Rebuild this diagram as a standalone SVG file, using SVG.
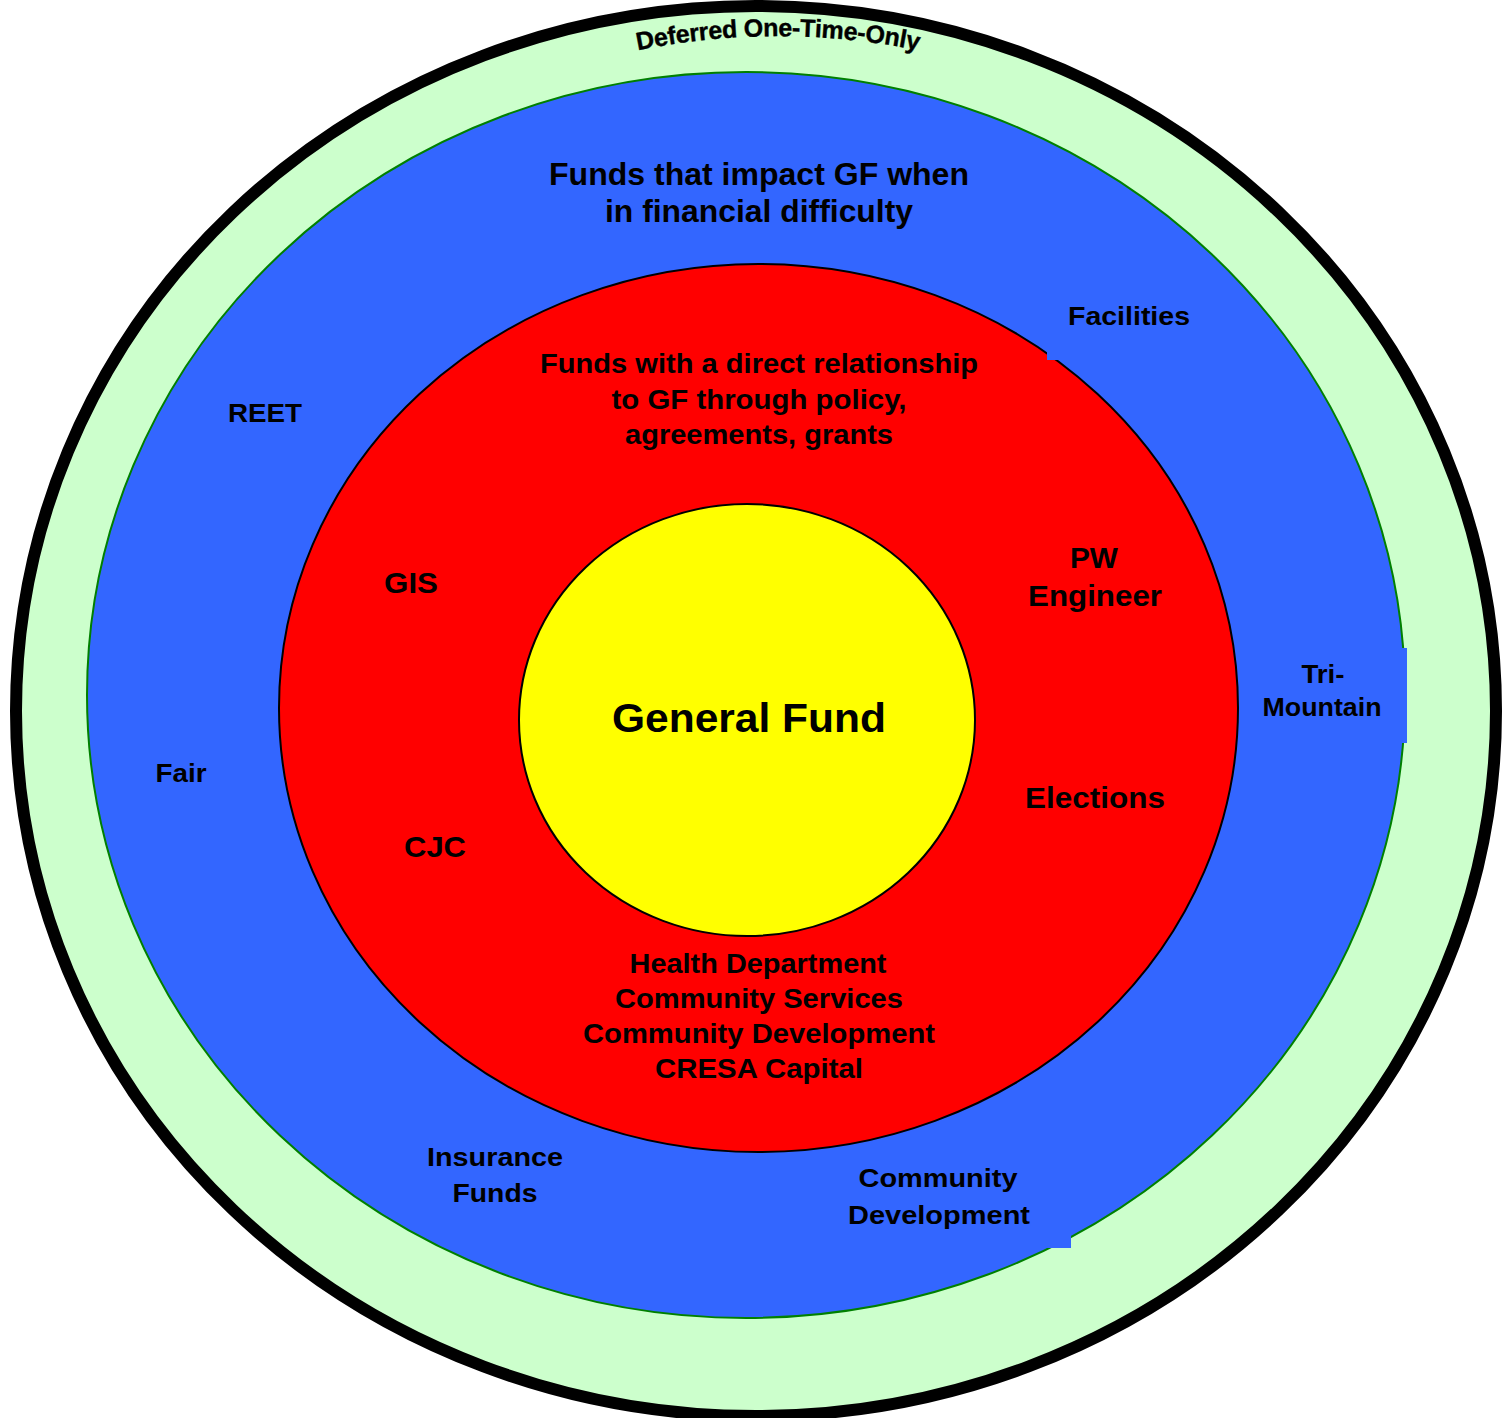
<svg xmlns="http://www.w3.org/2000/svg" width="1503" height="1418" viewBox="0 0 1503 1418">
<style>
text{font-family:"Liberation Sans",Arial,sans-serif;font-weight:bold;fill:#000;text-anchor:middle}
.lb{fill:#3366FF;stroke:none}
</style>
<defs>
<path id="arc" d="M 560,71 A 700 700 0 0 1 996,71"/>
</defs>
<rect x="0" y="0" width="1503" height="1418" fill="#FFFFFF"/>
<g id="ring-deferred">
<ellipse cx="756" cy="711" rx="740" ry="705" fill="#CCFFCC" stroke="#000" stroke-width="12"/>
<text font-size="25" letter-spacing="-0.3" stroke="#000" stroke-width="0.4"><textPath href="#arc" startOffset="50%">Deferred One-Time-Only</textPath></text>
</g>
<g id="ring-impact">
<ellipse cx="746" cy="695" rx="659" ry="623" fill="#3366FF" stroke="#008000" stroke-width="2"/>
<text x="759" y="185" font-size="31" textLength="420" lengthAdjust="spacingAndGlyphs">Funds that impact GF when</text>
<text x="759" y="222" font-size="31" textLength="308" lengthAdjust="spacingAndGlyphs">in financial difficulty</text>
</g>
<g id="ring-direct">
<ellipse cx="758.5" cy="708" rx="479.5" ry="444" fill="#FF0000" stroke="#000" stroke-width="2"/>
<text x="759" y="373" font-size="27" textLength="438" lengthAdjust="spacingAndGlyphs">Funds with a direct relationship</text>
<text x="759" y="409" font-size="27" textLength="295" lengthAdjust="spacingAndGlyphs">to GF through policy,</text>
<text x="759" y="444" font-size="27" textLength="268" lengthAdjust="spacingAndGlyphs">agreements, grants</text>
</g>
<g id="core">
<ellipse cx="747" cy="720" rx="228" ry="216" fill="#FFFF00" stroke="#000" stroke-width="2"/>
<text x="749" y="732" font-size="41" textLength="274" lengthAdjust="spacingAndGlyphs">General Fund</text>
</g>
<g id="node-gis"><text x="411" y="593" font-size="30" textLength="54" lengthAdjust="spacingAndGlyphs">GIS</text></g>
<g id="node-cjc"><text x="435" y="857" font-size="30" textLength="62" lengthAdjust="spacingAndGlyphs">CJC</text></g>
<g id="node-pw">
<text x="1094" y="568" font-size="29" textLength="48" lengthAdjust="spacingAndGlyphs">PW</text>
<text x="1095" y="606" font-size="29" textLength="134" lengthAdjust="spacingAndGlyphs">Engineer</text>
</g>
<g id="node-elections"><text x="1095" y="808" font-size="29" textLength="140" lengthAdjust="spacingAndGlyphs">Elections</text></g>
<g id="node-health">
<text x="758" y="973" font-size="27" textLength="257" lengthAdjust="spacingAndGlyphs">Health Department</text>
<text x="759" y="1008" font-size="27" textLength="288" lengthAdjust="spacingAndGlyphs">Community Services</text>
<text x="759" y="1043" font-size="27" textLength="352" lengthAdjust="spacingAndGlyphs">Community Development</text>
<text x="759" y="1078" font-size="27" textLength="208" lengthAdjust="spacingAndGlyphs">CRESA Capital</text>
</g>
<g id="node-reet"><text x="265" y="422" font-size="26" textLength="74" lengthAdjust="spacingAndGlyphs">REET</text></g>
<g id="node-fair"><text x="181" y="782" font-size="26" textLength="51" lengthAdjust="spacingAndGlyphs">Fair</text></g>
<g id="node-insurance">
<text x="495" y="1166" font-size="26" textLength="136" lengthAdjust="spacingAndGlyphs">Insurance</text>
<text x="495" y="1202" font-size="26" textLength="85" lengthAdjust="spacingAndGlyphs">Funds</text>
</g>
<g id="node-facilities">
<rect class="lb" x="1047" y="290" width="164" height="70"/>
<text x="1129" y="325" font-size="26" textLength="122" lengthAdjust="spacingAndGlyphs">Facilities</text>
</g>
<g id="node-trimountain">
<rect class="lb" x="1239" y="648" width="168" height="95"/>
<text x="1323" y="683" font-size="25" textLength="43" lengthAdjust="spacingAndGlyphs">Tri-</text>
<text x="1322" y="716" font-size="25" textLength="119" lengthAdjust="spacingAndGlyphs">Mountain</text>
</g>
<g id="node-commdev">
<rect class="lb" x="808" y="1155" width="263" height="93"/>
<text x="938" y="1187" font-size="26" textLength="159" lengthAdjust="spacingAndGlyphs">Community</text>
<text x="939" y="1224" font-size="26" textLength="182" lengthAdjust="spacingAndGlyphs">Development</text>
</g>
</svg>
